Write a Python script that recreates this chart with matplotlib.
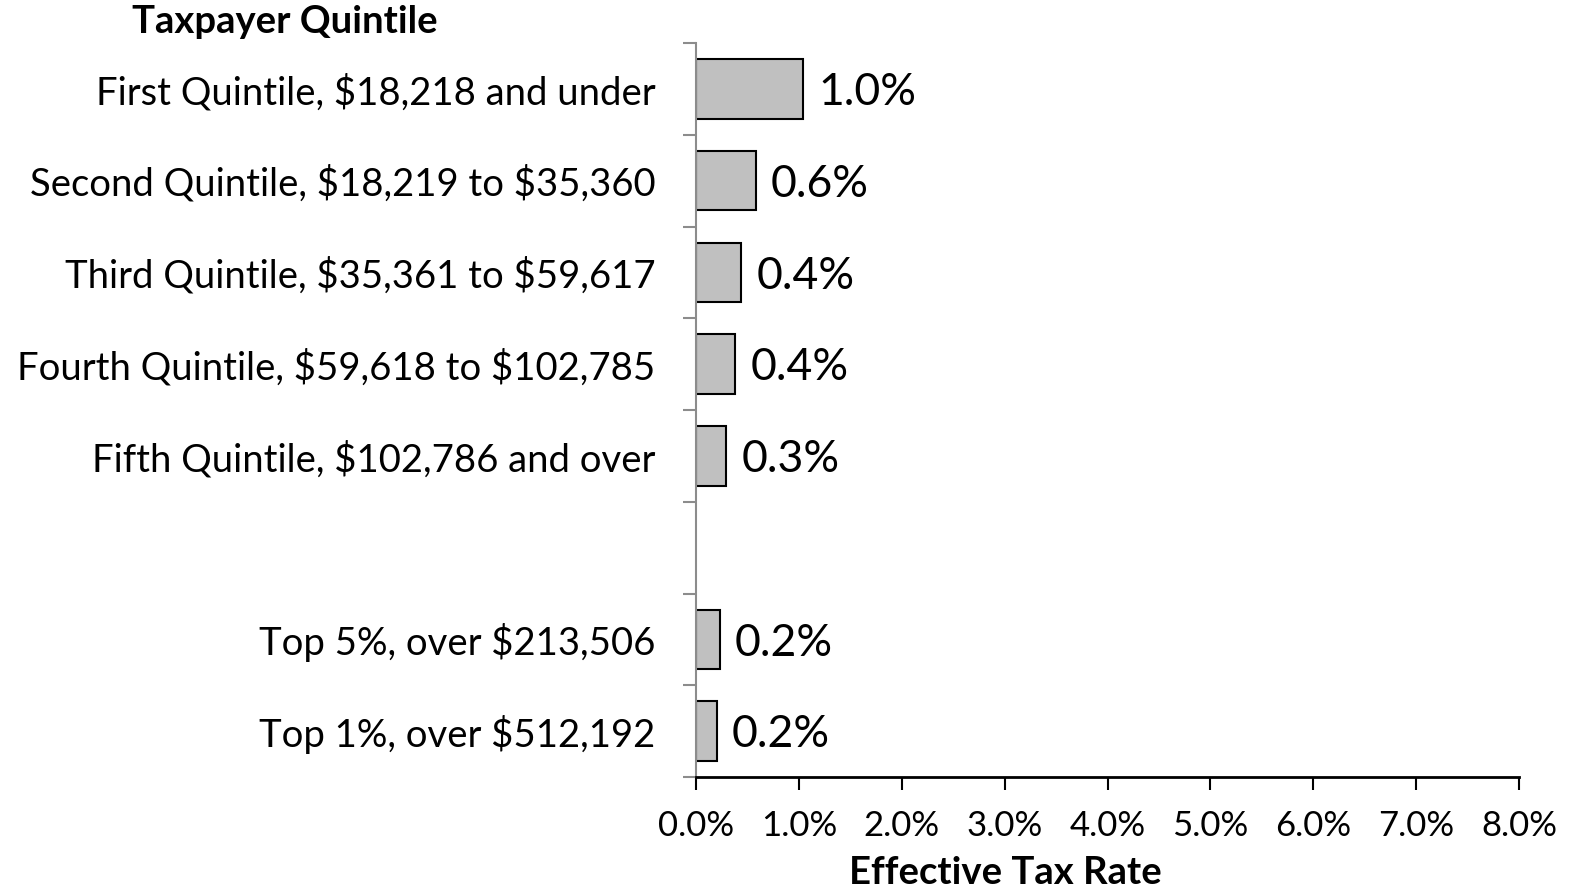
import matplotlib
matplotlib.use("Agg")
import matplotlib.pyplot as plt
from matplotlib.ticker import FixedLocator, PercentFormatter

plt.rcParams['font.family'] = ['Lato', 'DejaVu Sans']
plt.rcParams['text.parse_math'] = False

# Taxpayer groups (top to bottom); the empty string is the spacer row
categories = [
    "First Quintile, $18,218 and under",
    "Second Quintile, $18,219 to $35,360",
    "Third Quintile, $35,361 to $59,617",
    "Fourth Quintile, $59,618 to $102,785",
    "Fifth Quintile, $102,786 and over",
    "",
    "Top 5%, over $213,506",
    "Top 1%, over $512,192",
]
# Effective tax rate in percent
rates = [1.04, 0.58, 0.44, 0.38, 0.29, None, 0.23, 0.20]
x_ticks = [0, 1, 2, 3, 4, 5, 6, 7, 8]

W, H = 1573, 893
fig = plt.figure(figsize=(W / 100, H / 100), dpi=100)
ax = fig.add_axes([696 / W, 1 - 777 / H, (1519 - 696) / W, (777 - 43) / H])

ypos = list(range(len(categories)))
for y, r in zip(ypos, rates):
    if r is None:
        continue
    ax.barh(y, r, height=0.65, color="#c0c0c0", edgecolor="black", linewidth=1.5)
    ax.text(r + 0.15, y + 0.04, f"{r:.1f}%", va="center", ha="left",
            fontsize=32, color="black")

ax.set_xlim(0, 8)
ax.set_ylim(len(categories) - 0.5, -0.5)

ax.set_xticks(x_ticks)
ax.xaxis.set_major_formatter(PercentFormatter(decimals=1))
ax.tick_params(axis="x", direction="out", length=9, width=1.5, color="black",
               labelsize=25, pad=15)

ax.set_yticks(ypos)
ax.set_yticklabels(categories)
ax.yaxis.set_minor_locator(FixedLocator([i - 0.5 for i in range(len(categories) + 1)]))
ax.tick_params(axis="y", which="major", length=0, labelsize=27.5, pad=29)
ax.tick_params(axis="y", which="minor", direction="out", length=9.5, width=1.5,
               color="#8c8c8c")

for s in ("top", "right"):
    ax.spines[s].set_visible(False)
ax.spines["left"].set_color("#8c8c8c")
ax.spines["left"].set_linewidth(1.5)
ax.spines["bottom"].set_color("black")
ax.spines["bottom"].set_linewidth(2)

fig.text(285 / W, 1 - 22 / H, "Taxpayer Quintile", ha="center", va="center",
         fontsize=27.5, fontweight="bold")
fig.text(1005 / W, 1 - 873 / H, "Effective Tax Rate", ha="center", va="center",
         fontsize=27.5, fontweight="bold")

fig.savefig("out.png", dpi=100)
